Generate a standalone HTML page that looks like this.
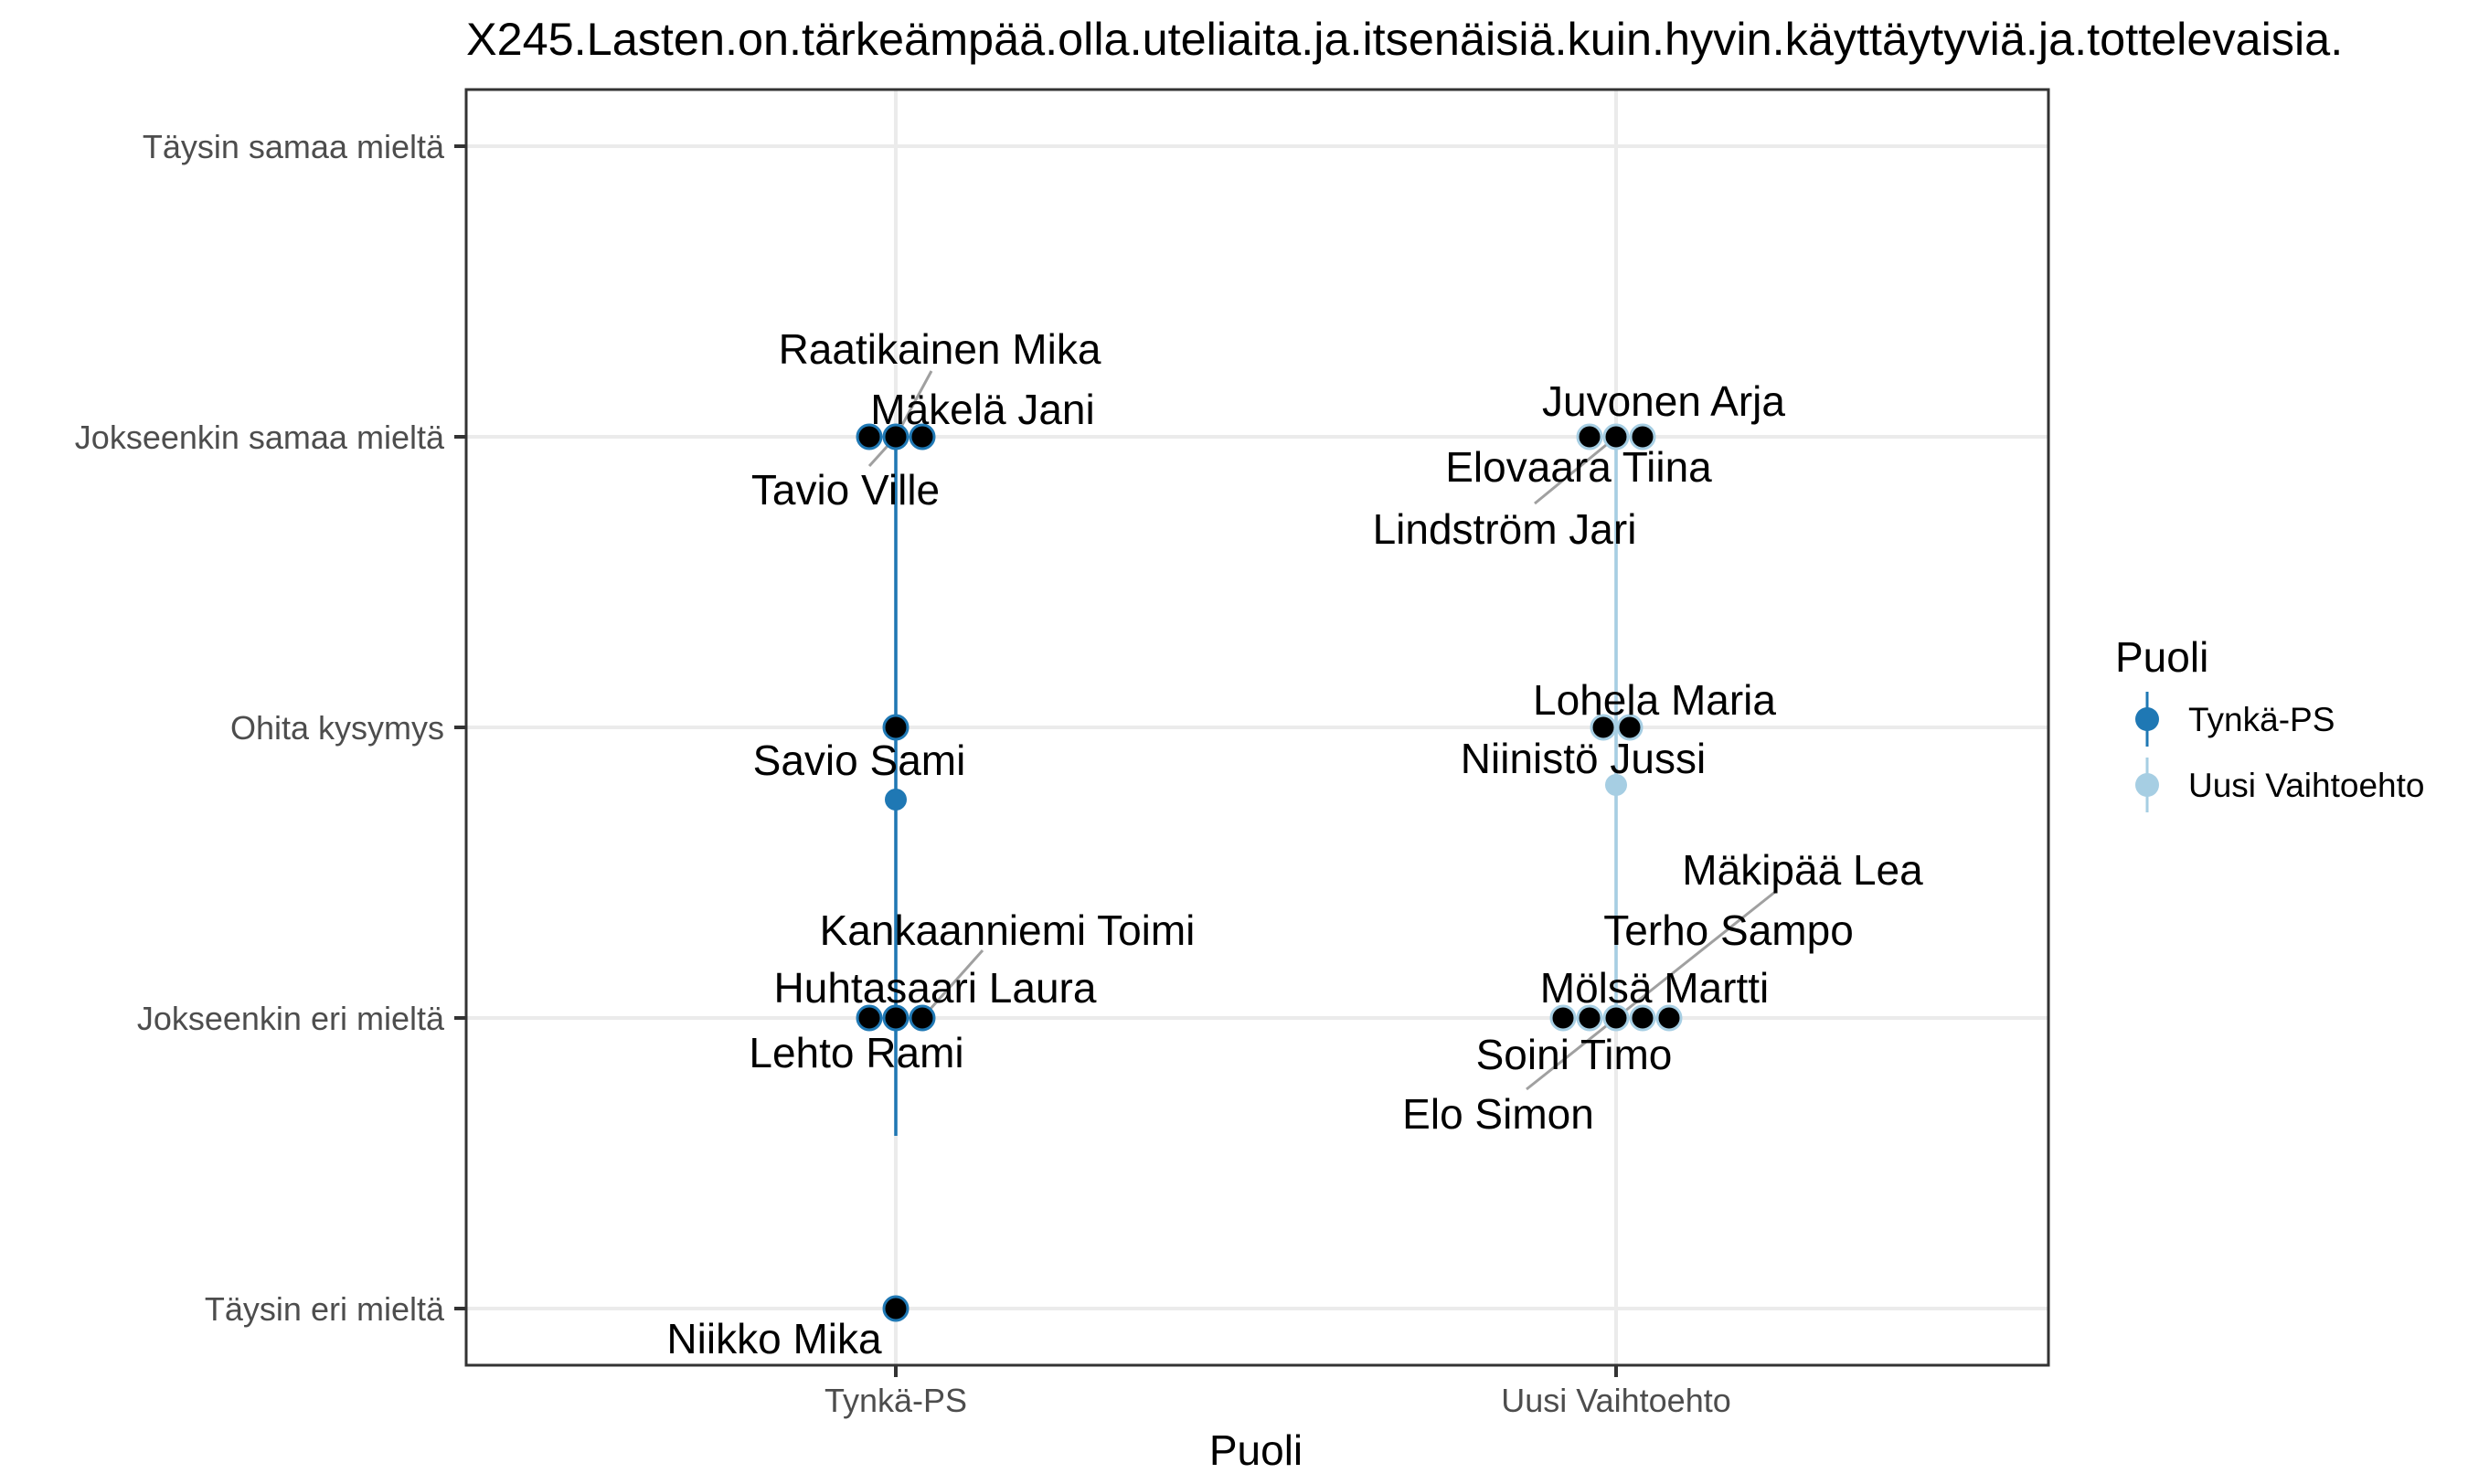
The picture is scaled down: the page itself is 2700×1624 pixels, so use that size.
<!DOCTYPE html>
<html><head><meta charset="utf-8"><style>html,body{margin:0;padding:0;background:#fff}svg{display:block}</style></head>
<body>
<svg xmlns="http://www.w3.org/2000/svg" width="2700" height="1624" viewBox="0 0 2700 1624" font-family="Liberation Sans, Arial, sans-serif">
<rect width="2700" height="1624" fill="#fff"/>
<text x="510" y="60" font-size="50.4" fill="#000">X245.Lasten.on.tärkeämpää.olla.uteliaita.ja.itsenäisiä.kuin.hyvin.käyttäytyviä.ja.tottelevaisia.</text>
<g stroke="#ebebeb" stroke-width="4">
<line x1="510" x2="2241" y1="160" y2="160"/><line x1="510" x2="2241" y1="478" y2="478"/><line x1="510" x2="2241" y1="796" y2="796"/><line x1="510" x2="2241" y1="1114" y2="1114"/><line x1="510" x2="2241" y1="1432" y2="1432"/>
<line x1="980" x2="980" y1="98" y2="1494"/><line x1="1768" x2="1768" y1="98" y2="1494"/>
</g>
<line x1="980" x2="980" y1="478" y2="1243" stroke="#1f78b4" stroke-width="3.5"/>
<line x1="1768" x2="1768" y1="478" y2="1128" stroke="#a6cee3" stroke-width="3.5"/>
<circle cx="980" cy="875" r="12" fill="#1f78b4"/>
<circle cx="1768" cy="859" r="12" fill="#a6cee3"/>
<g stroke="#a0a0a0" stroke-width="3" fill="none">
<line x1="1019" y1="406" x2="980" y2="478"/><line x1="951" y1="510" x2="980" y2="478"/>
<line x1="1075" y1="1040" x2="1009" y2="1114"/>
<line x1="1679" y1="551" x2="1768" y2="478"/>
<line x1="1942" y1="976" x2="1670" y2="1192"/>
</g>
<g fill="#000" stroke-width="3">
<g stroke="#1f78b4">
<circle cx="951" cy="478" r="13"/><circle cx="980" cy="478" r="13"/><circle cx="1009" cy="478" r="13"/>
<circle cx="980" cy="796" r="13"/>
<circle cx="951" cy="1114" r="13"/><circle cx="980" cy="1114" r="13"/><circle cx="1009" cy="1114" r="13"/>
<circle cx="980" cy="1432" r="13"/>
</g>
<g stroke="#a6cee3">
<circle cx="1739" cy="478" r="13"/><circle cx="1768" cy="478" r="13"/><circle cx="1797" cy="478" r="13"/>
<circle cx="1754" cy="796" r="13"/><circle cx="1783" cy="796" r="13"/>
<circle cx="1710" cy="1114" r="13"/><circle cx="1739" cy="1114" r="13"/><circle cx="1768" cy="1114" r="13"/><circle cx="1797" cy="1114" r="13"/><circle cx="1826" cy="1114" r="13"/>
</g>
</g>
<g font-size="46" fill="#000" text-anchor="middle">
<text x="1028" y="398">Raatikainen Mika</text>
<text x="1075" y="464">Mäkelä Jani</text>
<text x="925" y="552">Tavio Ville</text>
<text x="940" y="848">Savio Sami</text>
<text x="1102" y="1034">Kankaanniemi Toimi</text>
<text x="1023" y="1097">Huhtasaari Laura</text>
<text x="937" y="1168">Lehto Rami</text>
<text x="847" y="1481">Niikko Mika</text>
<text x="1820" y="455">Juvonen Arja</text>
<text x="1727" y="527">Elovaara Tiina</text>
<text x="1646" y="595">Lindström Jari</text>
<text x="1810" y="782">Lohela Maria</text>
<text x="1732" y="846">Niinistö Jussi</text>
<text x="1972" y="968">Mäkipää Lea</text>
<text x="1891" y="1034">Terho Sampo</text>
<text x="1810" y="1097">Mölsä Martti</text>
<text x="1722" y="1170">Soini Timo</text>
<text x="1639" y="1235">Elo Simon</text>
</g>
<rect x="510" y="98" width="1731" height="1396" fill="none" stroke="#333" stroke-width="3"/>
<g stroke="#333" stroke-width="4">
<line x1="497" x2="510" y1="160" y2="160"/><line x1="497" x2="510" y1="478" y2="478"/><line x1="497" x2="510" y1="796" y2="796"/><line x1="497" x2="510" y1="1114" y2="1114"/><line x1="497" x2="510" y1="1432" y2="1432"/>
<line x1="980" x2="980" y1="1494" y2="1507"/><line x1="1768" x2="1768" y1="1494" y2="1507"/>
</g>
<g font-size="36" fill="#4d4d4d" text-anchor="end">
<text x="486" y="173">Täysin samaa mieltä</text>
<text x="486" y="491">Jokseenkin samaa mieltä</text>
<text x="486" y="809">Ohita kysymys</text>
<text x="486" y="1127">Jokseenkin eri mieltä</text>
<text x="486" y="1445">Täysin eri mieltä</text>
</g>
<g font-size="36" fill="#4d4d4d" text-anchor="middle">
<text x="980" y="1545">Tynkä-PS</text>
<text x="1768" y="1545">Uusi Vaihtoehto</text>
</g>
<text x="1374" y="1603" font-size="46" text-anchor="middle" fill="#000">Puoli</text>
<text x="2314" y="735" font-size="46" fill="#000">Puoli</text>
<line x1="2349" x2="2349" y1="757" y2="817" stroke="#1f78b4" stroke-width="3"/>
<circle cx="2349" cy="787" r="13" fill="#1f78b4"/>
<line x1="2349" x2="2349" y1="829" y2="889" stroke="#a6cee3" stroke-width="3"/>
<circle cx="2349" cy="859" r="13" fill="#a6cee3"/>
<text x="2394" y="800" font-size="37" fill="#000">Tynkä-PS</text>
<text x="2394" y="872" font-size="37" fill="#000">Uusi Vaihtoehto</text>
</svg>
</body></html>
